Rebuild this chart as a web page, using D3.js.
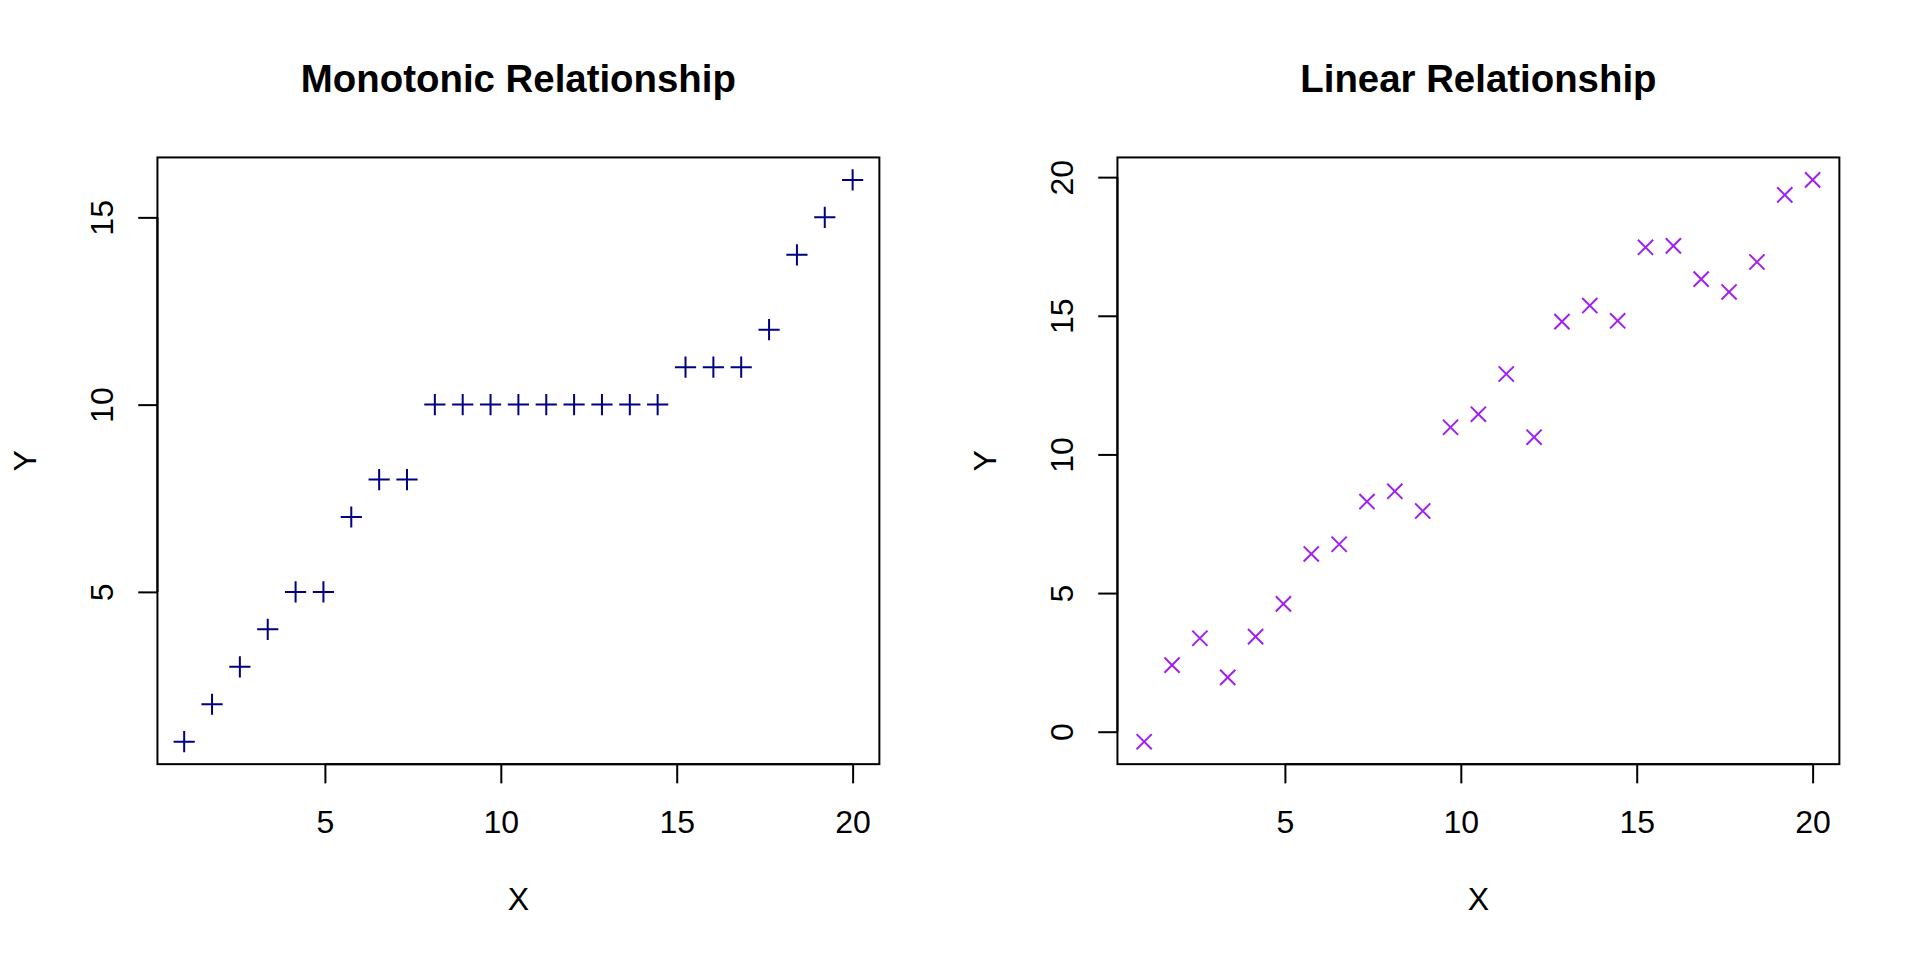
<!DOCTYPE html>
<html>
<head>
<meta charset="utf-8">
<script src="https://cdn.jsdelivr.net/npm/d3@7"></script>
<style>
  html, body { margin: 0; padding: 0; background: #fff; }
  svg { display: block; }
  text { font-family: "Liberation Sans", Arial, Helvetica, sans-serif; fill: #000; }
</style>
</head>
<body>
<svg id="chart" width="1920" height="960"></svg>
<script>
// ---- data ----
const xValues = [1, 1.792, 2.583, 3.375, 4.167, 4.958, 5.75, 6.542, 7.333, 8.125,
                 8.917, 9.708, 10.5, 11.292, 12.083, 12.875, 13.667, 14.458, 15.25,
                 16.042, 16.833, 17.625, 18.417, 19.208, 20];
const monotonicY = [1, 2, 3, 4, 5, 5, 7, 8, 8, 10, 10, 10, 10, 10, 10, 10, 10, 10,
                    11, 11, 11, 12, 14, 15, 16];
const linearY = [-0.36, 2.40, 3.37, 1.96, 3.43, 4.61, 6.41, 6.76, 8.30, 8.67, 7.96,
                 10.98, 11.45, 12.90, 10.62, 14.79, 15.37, 14.82, 17.47, 17.52,
                 16.32, 15.86, 16.94, 19.36, 19.90];
const xTicks = [5, 10, 15, 20];
const monotonicYTicks = [5, 10, 15];
const linearYTicks = [0, 5, 10, 15, 20];
const titles = ["Monotonic Relationship", "Linear Relationship"];
const xLabel = "X";
const yLabel = "Y";

// ---- layout (R base graphics style) ----
const svg = d3.select("#chart");
const LINE = 38.4;
const panelW = 960, panelH = 960;
const mar = { bottom: 5.1 * LINE, left: 4.1 * LINE, top: 4.1 * LINE, right: 2.1 * LINE };

function padded(ext) {
  const d = (ext[1] - ext[0]) * 0.04;
  return [ext[0] - d, ext[1] + d];
}

function drawPanel(ox, title, ys, yTicks, marker, color) {
  const g = svg.append("g").attr("transform", `translate(${ox},0)`);
  const L = mar.left, R = panelW - mar.right, T = mar.top, B = panelH - mar.bottom;
  const x = d3.scaleLinear().domain(padded(d3.extent(xValues))).range([L, R]);
  const y = d3.scaleLinear().domain(padded(d3.extent(ys))).range([B, T]);

  // title
  g.append("text").attr("x", (L + R) / 2).attr("y", 91.7)
    .attr("text-anchor", "middle").attr("font-size", 38.4).attr("font-weight", "bold")
    .text(title);

  // x axis
  const xa = g.append("g").attr("transform", `translate(0,${B})`)
    .call(d3.axisBottom(x).tickValues(xTicks).tickSize(19.2).tickFormat(d3.format("d")));
  xa.select(".domain").remove();
  xa.selectAll(".tick line").attr("stroke", "#000").attr("stroke-width", 2);
  xa.selectAll(".tick text").attr("y", 69).attr("dy", 0)
    .attr("font-size", 32).attr("fill", "#000")
    .style("font-family", '"Liberation Sans", Arial, sans-serif');
  xa.append("line").attr("x1", x(xTicks[0])).attr("x2", x(xTicks[xTicks.length - 1]))
    .attr("y1", 0).attr("y2", 0).attr("stroke", "#000").attr("stroke-width", 2);

  // y axis
  const ya = g.append("g").attr("transform", `translate(${L},0)`)
    .call(d3.axisLeft(y).tickValues(yTicks).tickSize(19.2).tickFormat(d3.format("d")));
  ya.select(".domain").remove();
  ya.selectAll(".tick line").attr("stroke", "#000").attr("stroke-width", 2);
  ya.selectAll(".tick text").attr("x", 0).attr("dy", 0)
    .attr("text-anchor", "middle")
    .attr("transform", "translate(-44.4,0) rotate(-90)")
    .attr("font-size", 32).attr("fill", "#000")
    .style("font-family", '"Liberation Sans", Arial, sans-serif');
  ya.append("line").attr("y1", y(yTicks[0])).attr("y2", y(yTicks[yTicks.length - 1]))
    .attr("x1", 0).attr("x2", 0).attr("stroke", "#000").attr("stroke-width", 2);

  // box
  g.append("rect").attr("x", L).attr("y", T).attr("width", R - L).attr("height", B - T)
    .attr("fill", "none").attr("stroke", "#000").attr("stroke-width", 2);

  // axis labels
  g.append("text").attr("x", (L + R) / 2).attr("y", 910)
    .attr("text-anchor", "middle").attr("font-size", 32).text(xLabel);
  g.append("text").attr("text-anchor", "middle").attr("font-size", 32)
    .attr("transform", `translate(35.5,${(T + B) / 2}) rotate(-90)`).text(yLabel);

  // points
  const pts = g.append("g").attr("stroke", color).attr("stroke-width", 2).attr("fill", "none");
  const data = xValues.map((xv, i) => [xv, ys[i]]);
  pts.selectAll("path").data(data).enter().append("path")
    .attr("d", d => {
      const cx = x(d[0]), cy = y(d[1]);
      if (marker === "plus") {
        const h = 10.6;
        return `M${cx - h},${cy}L${cx + h},${cy}M${cx},${cy - h}L${cx},${cy + h}`;
      } else {
        const h = 7.6;
        return `M${cx - h},${cy - h}L${cx + h},${cy + h}M${cx - h},${cy + h}L${cx + h},${cy - h}`;
      }
    });
}

drawPanel(0, titles[0], monotonicY, monotonicYTicks, "plus", "#000080");
drawPanel(960, titles[1], linearY, linearYTicks, "cross", "#A020F0");
</script>
</body>
</html>
